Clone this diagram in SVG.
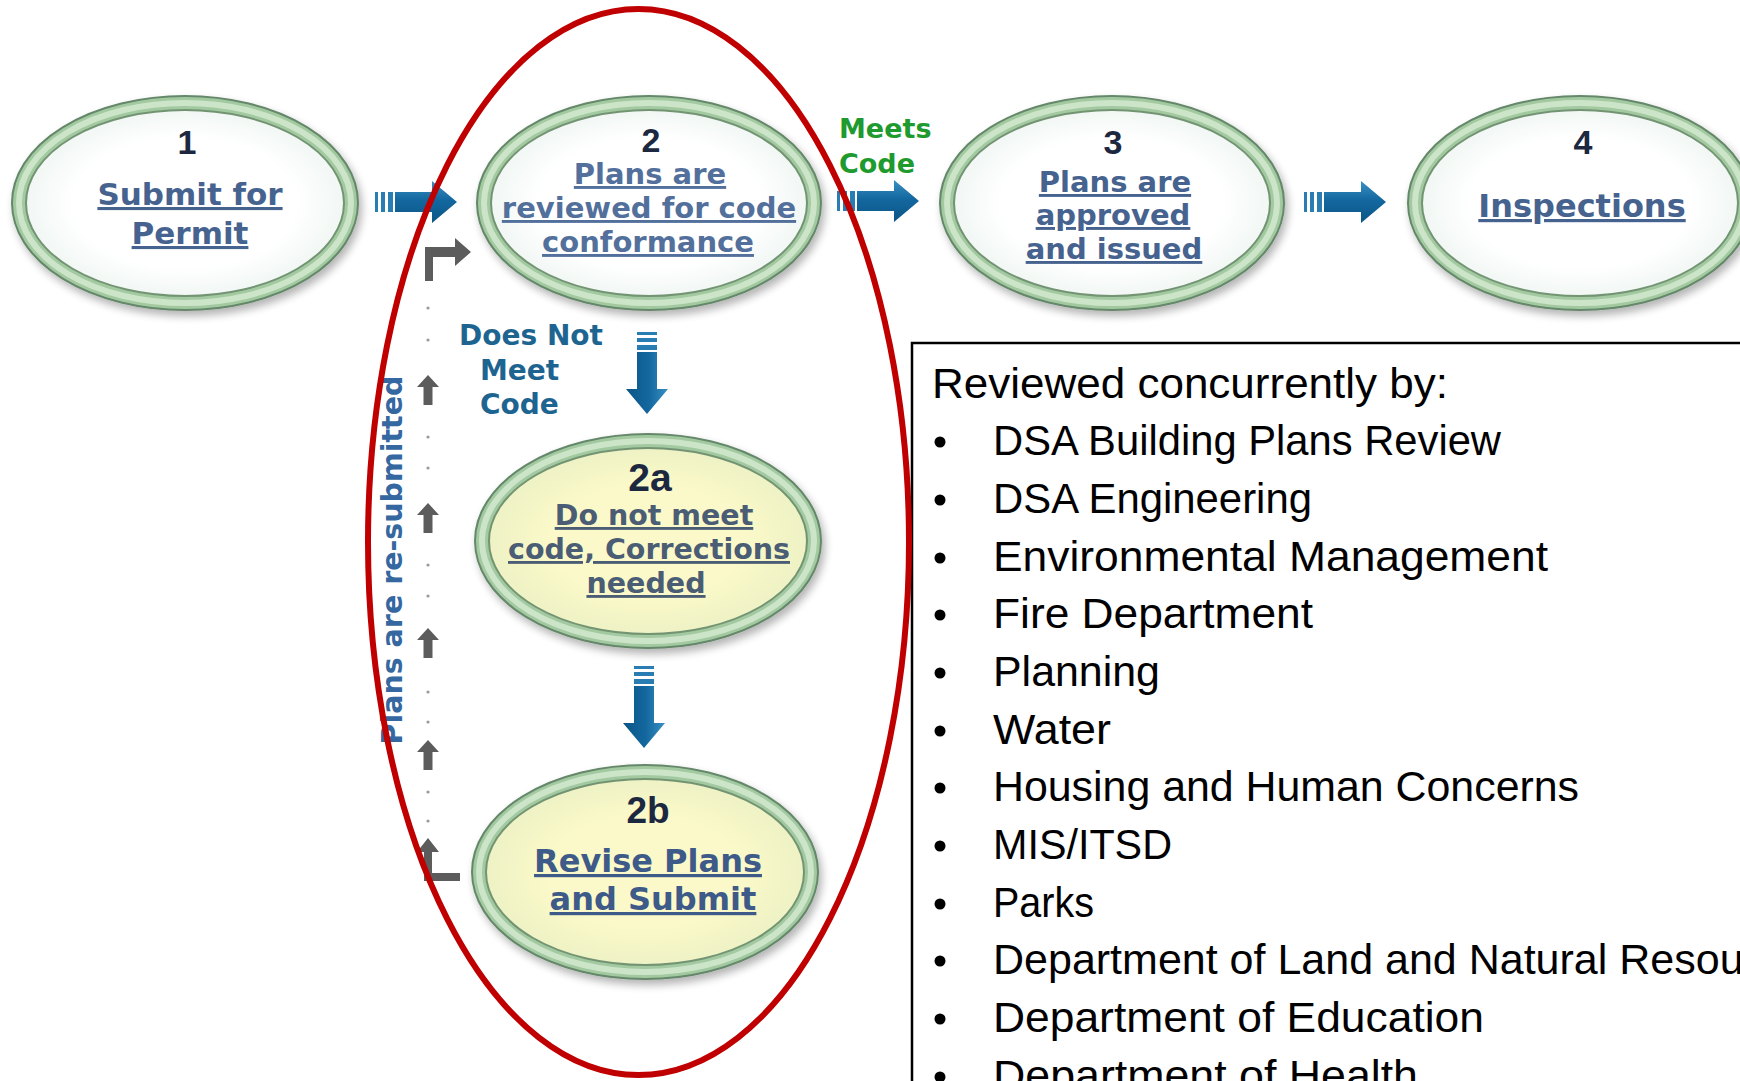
<svg xmlns="http://www.w3.org/2000/svg" xmlns:xlink="http://www.w3.org/1999/xlink" width="1740" height="1081" viewBox="0 0 1740 1081">
<defs>
  <filter id="sh" x="-10%" y="-10%" width="125%" height="130%">
    <feGaussianBlur in="SourceAlpha" stdDeviation="4"/>
    <feOffset dx="3" dy="5" result="b"/>
    <feComponentTransfer><feFuncA type="linear" slope="0.3"/></feComponentTransfer>
    <feMerge><feMergeNode/><feMergeNode in="SourceGraphic"/></feMerge>
  </filter>
  <linearGradient id="ag" x1="0" y1="0" x2="0" y2="1">
    <stop offset="0" stop-color="#3a90c4"/>
    <stop offset="0.45" stop-color="#13689f"/>
    <stop offset="1" stop-color="#0b5586"/>
  </linearGradient>
  <radialGradient id="yel" cx="0.5" cy="0.5" r="0.5">
    <stop offset="0.6" stop-color="#fbf9c9"/>
    <stop offset="1" stop-color="#eef2c4"/>
  </radialGradient>
  <radialGradient id="wht" cx="0.5" cy="0.5" r="0.5">
    <stop offset="0.7" stop-color="#ffffff"/>
    <stop offset="1" stop-color="#f1f7f4"/>
  </radialGradient>
  <g id="harrow">
    <rect x="0" y="-10" width="3" height="20" fill="#2a7db3"/>
    <rect x="6" y="-10" width="4" height="20" fill="#2a7db3"/>
    <rect x="13" y="-10" width="5" height="20" fill="#2a7db3"/>
    <path d="M20,-10 H57 V-21 L82,0 L57,21 V10 H20 Z" fill="url(#ag)"/>
  </g>
  <path id="uparrow" d="M0,-15 L11,-3 H4.5 V15 H-4.5 V-3 H-11 Z"/>
</defs>
<style>
  .ro { fill:#a3c9a1; stroke:#65886a; stroke-width:2; filter:url(#sh); }
  .rm { fill:none; stroke:#cce5c9; stroke-width:6; }
  .ri { fill:url(#wht); stroke:#739473; stroke-width:2; }
  .riy { fill:url(#yel); stroke:#739473; stroke-width:2; }
  .num { font-family:"Liberation Sans", Arial, sans-serif; font-weight:bold; fill:#1c2840; text-anchor:middle; }
  .lbl { font-family:"DejaVu Sans", Verdana, sans-serif; font-weight:bold; fill:#46638f; text-anchor:middle; text-decoration:underline; }
  .meets { font-family:"DejaVu Sans", Verdana, sans-serif; font-weight:bold; font-size:27px; fill:#1e9a2e; }
  .dnm { font-family:"DejaVu Sans", Verdana, sans-serif; font-weight:bold; font-size:28px; fill:#1d6590; }
  .resub { font-family:"DejaVu Sans", Verdana, sans-serif; font-weight:bold; font-size:28.5px; fill:#3567a0; text-anchor:middle; }
  .gray { fill:#5c5c5c; }
  .dot { fill:#9a9a9a; }
  .box { font-family:"Liberation Sans", Arial, sans-serif; font-size:43px; fill:#000000; }
</style>
<rect x="0" y="0" width="1740" height="1081" fill="#ffffff"/>

<g id="reviewers">
  <rect x="912" y="343" width="900" height="800" fill="#ffffff" stroke="#000000" stroke-width="2.5"/>
  <text class="box" x="932" y="398" textLength="516" lengthAdjust="spacingAndGlyphs">Reviewed concurrently by:</text>
  <g class="bul" fill="#000000">
    <circle cx="940" cy="442" r="5.5"/>
    <circle cx="940" cy="500" r="5.5"/>
    <circle cx="940" cy="558" r="5.5"/>
    <circle cx="940" cy="615" r="5.5"/>
    <circle cx="940" cy="673" r="5.5"/>
    <circle cx="940" cy="731" r="5.5"/>
    <circle cx="940" cy="788" r="5.5"/>
    <circle cx="940" cy="846" r="5.5"/>
    <circle cx="940" cy="904" r="5.5"/>
    <circle cx="940" cy="961" r="5.5"/>
    <circle cx="940" cy="1019" r="5.5"/>
    <circle cx="940" cy="1077" r="5.5"/>
  </g>
  <text class="box" x="993" y="455" textLength="508" lengthAdjust="spacingAndGlyphs">DSA Building Plans Review</text>
  <text class="box" x="993" y="513" textLength="319" lengthAdjust="spacingAndGlyphs">DSA Engineering</text>
  <text class="box" x="993" y="571" textLength="555" lengthAdjust="spacingAndGlyphs">Environmental Management</text>
  <text class="box" x="993" y="628" textLength="320" lengthAdjust="spacingAndGlyphs">Fire Department</text>
  <text class="box" x="993" y="686" textLength="167" lengthAdjust="spacingAndGlyphs">Planning</text>
  <text class="box" x="993" y="744" textLength="118" lengthAdjust="spacingAndGlyphs">Water</text>
  <text class="box" x="993" y="801" textLength="586" lengthAdjust="spacingAndGlyphs">Housing and Human Concerns</text>
  <text class="box" x="993" y="859" textLength="179" lengthAdjust="spacingAndGlyphs">MIS/ITSD</text>
  <text class="box" x="993" y="917" textLength="101" lengthAdjust="spacingAndGlyphs">Parks</text>
  <text class="box" x="993" y="974">Department of Land and Natural Resources</text>
  <text class="box" x="993" y="1032" textLength="491" lengthAdjust="spacingAndGlyphs">Department of Education</text>
  <text class="box" x="993" y="1090" textLength="425" lengthAdjust="spacingAndGlyphs">Department of Health</text>
</g>

<g id="node1">
  <ellipse class="ro" cx="185" cy="203" rx="173" ry="107"/>
  <ellipse class="rm" cx="185" cy="203" rx="166" ry="100"/>
  <ellipse class="ri" cx="185" cy="203" rx="159" ry="93"/>
  <text class="num" x="187" y="154" font-size="34">1</text>
  <text class="lbl" x="190" y="205" font-size="31">Submit for</text>
  <text class="lbl" x="190" y="244" font-size="31">Permit</text>
</g>

<g id="node2">
  <ellipse class="ro" cx="649" cy="203" rx="172" ry="107"/>
  <ellipse class="rm" cx="649" cy="203" rx="165" ry="100"/>
  <ellipse class="ri" cx="649" cy="203" rx="158" ry="93"/>
  <text class="num" x="651" y="152" font-size="34">2</text>
  <text class="lbl" x="650" y="184" font-size="29" style="fill:#52709b">Plans are</text>
  <text class="lbl" x="649" y="218" font-size="29" style="fill:#52709b">reviewed for code</text>
  <text class="lbl" x="648" y="252" font-size="29" style="fill:#52709b">conformance</text>
</g>

<g id="node3">
  <ellipse class="ro" cx="1112" cy="203" rx="172" ry="107"/>
  <ellipse class="rm" cx="1112" cy="203" rx="165" ry="100"/>
  <ellipse class="ri" cx="1112" cy="203" rx="158" ry="93"/>
  <text class="num" x="1113" y="154" font-size="34">3</text>
  <text class="lbl" x="1115" y="192" font-size="29">Plans are</text>
  <text class="lbl" x="1113" y="225" font-size="29">approved</text>
  <text class="lbl" x="1114" y="259" font-size="29">and issued</text>
</g>

<g id="node4">
  <ellipse class="ro" cx="1580" cy="203" rx="172" ry="107"/>
  <ellipse class="rm" cx="1580" cy="203" rx="165" ry="100"/>
  <ellipse class="ri" cx="1580" cy="203" rx="158" ry="93"/>
  <text class="num" x="1583" y="154" font-size="34">4</text>
  <text class="lbl" x="1582" y="217" font-size="32">Inspections</text>
</g>

<g id="node2a">
  <ellipse class="ro" cx="648" cy="541" rx="173" ry="107"/>
  <ellipse class="rm" cx="648" cy="541" rx="166" ry="100"/>
  <ellipse class="riy" cx="648" cy="541" rx="159" ry="93"/>
  <text class="num" x="650" y="491" font-size="39">2a</text>
  <text class="lbl" x="654" y="525" font-size="28.5" style="fill:#4a5d74">Do not meet</text>
  <text class="lbl" x="649" y="559" font-size="28.5" style="fill:#4a5d74">code, Corrections</text>
  <text class="lbl" x="646" y="593" font-size="28.5" style="fill:#4a5d74">needed</text>
</g>

<g id="node2b">
  <ellipse class="ro" cx="645" cy="872" rx="173" ry="107"/>
  <ellipse class="rm" cx="645" cy="872" rx="166" ry="100"/>
  <ellipse class="riy" cx="645" cy="872" rx="159" ry="93"/>
  <text class="num" x="648" y="823" font-size="37">2b</text>
  <text class="lbl" x="648" y="872" font-size="32" style="fill:#3d5a88">Revise Plans</text>
  <text class="lbl" x="653" y="910" font-size="32" style="fill:#3d5a88">and Submit</text>
</g>

<g id="connectors">
  <use xlink:href="#harrow" href="#harrow" transform="translate(375,202)"/>
  <use xlink:href="#harrow" href="#harrow" transform="translate(837,201)"/>
  <use xlink:href="#harrow" href="#harrow" transform="translate(1304,202)"/>
  <use xlink:href="#harrow" href="#harrow" transform="translate(647,332) rotate(90)"/>
  <use xlink:href="#harrow" href="#harrow" transform="translate(644,666) rotate(90)"/>

  <text class="meets" x="839" y="138">Meets</text>
  <text class="meets" x="839" y="173">Code</text>

  <text class="dnm" x="459" y="345">Does Not</text>
  <text class="dnm" x="480" y="380">Meet</text>
  <text class="dnm" x="480" y="414">Code</text>

  <g id="resubmit-loop">
    <path class="gray" d="M425,281 V247 H455 V238 L471,252 L455,266 V257 H433 V281 Z"/>
    <circle class="dot" cx="428" cy="308" r="1.6"/>
    <circle class="dot" cx="428" cy="340" r="1.6"/>
    <use class="gray" xlink:href="#uparrow" href="#uparrow" transform="translate(428,390)"/>
    <circle class="dot" cx="428" cy="437" r="1.6"/>
    <circle class="dot" cx="428" cy="468" r="1.6"/>
    <use class="gray" xlink:href="#uparrow" href="#uparrow" transform="translate(428,518)"/>
    <circle class="dot" cx="428" cy="565" r="1.6"/>
    <circle class="dot" cx="428" cy="596" r="1.6"/>
    <use class="gray" xlink:href="#uparrow" href="#uparrow" transform="translate(428,643)"/>
    <circle class="dot" cx="428" cy="692" r="1.6"/>
    <circle class="dot" cx="428" cy="722" r="1.6"/>
    <use class="gray" xlink:href="#uparrow" href="#uparrow" transform="translate(428,755)"/>
    <circle class="dot" cx="428" cy="792" r="1.6"/>
    <circle class="dot" cx="428" cy="821" r="1.6"/>
    <path class="gray" d="M428,838 L439,852 H432 V873 H460 V881 H424 V852 H417 Z"/>
  </g>
  <text class="resub" transform="translate(402,560) rotate(-90)" x="0" y="0">Plans are re-submitted</text>
</g>

<g id="highlight">
  <ellipse cx="638.5" cy="542" rx="270.5" ry="533" fill="none" stroke="#c00000" stroke-width="6"/>
</g>
</svg>
